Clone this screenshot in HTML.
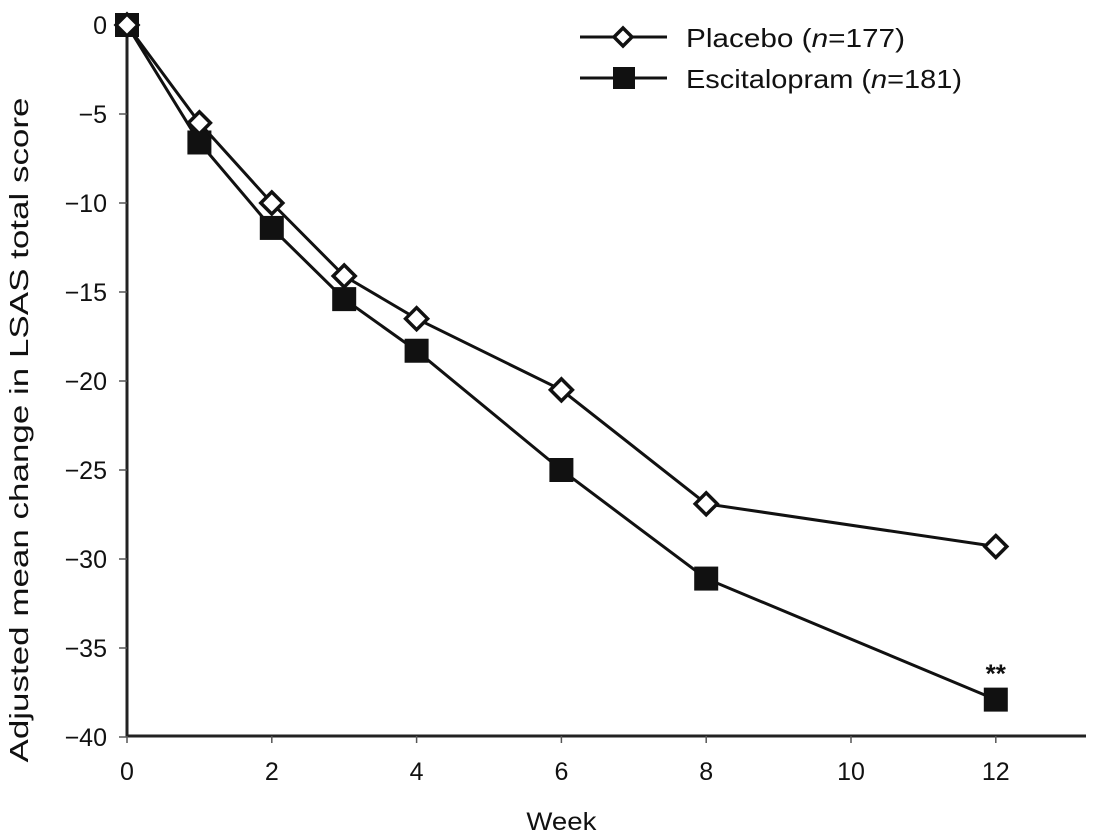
<!DOCTYPE html>
<html><head><meta charset="utf-8"><style>
body{margin:0;background:#fff}
svg{display:block;font-family:"Liberation Sans",sans-serif}
</style></head><body>
<svg id="chart" width="1099" height="836"></svg>
<script>
const weeks=[0,1,2,3,4,6,8,12];
const placebo=[0,-5.5,-10.0,-14.1,-16.5,-20.5,-26.9,-29.3];
const escitalopram=[0,-6.6,-11.4,-15.4,-18.3,-25.0,-31.1,-37.9];
const xTicks=[0,2,4,6,8,10,12];
const yTicks=[0,-5,-10,-15,-20,-25,-30,-35,-40];
const NS='http://www.w3.org/2000/svg';
const svg=document.getElementById('chart');
const x=v=>127+v*72.4;
const y=v=>25-v*17.8;
function mk(t,a,p){const e=document.createElementNS(NS,t);for(const k in a)e.setAttribute(k,a[k]);(p||svg).appendChild(e);return e;}
const axes=mk('g',{});


mk('line',{x1:127,y1:18,x2:127,y2:737,stroke:'#222','stroke-width':3},axes);
mk('line',{x1:126,y1:736,x2:1086,y2:736,stroke:'#222','stroke-width':3},axes);
xTicks.forEach(t=>{
  mk('line',{x1:x(t),y1:736,x2:x(t),y2:743,stroke:'#555','stroke-width':1.5},axes);
  const e=mk('text',{x:x(t),y:780,'font-size':25,'text-anchor':'middle',fill:'#111'},axes);
  e.textContent=t;
  
  
});
yTicks.forEach(t=>{
  mk('line',{x1:119,y1:y(t),x2:127,y2:y(t),stroke:'#555','stroke-width':1.5},axes);
  const e=mk('text',{x:107,y:y(t)+9,'font-size':25,'text-anchor':'end',fill:'#111'},axes);
  e.textContent=t===0?'0':'\u2212'+Math.abs(t);
  
  
});
const xt=mk('text',{x:x(6),y:830,'font-size':25,'text-anchor':'middle',fill:'#111',textLength:70,lengthAdjust:'spacingAndGlyphs'});
xt.textContent='Week';


const yt=mk('text',{x:0,y:0,'font-size':26,'text-anchor':'middle',fill:'#111',transform:'translate(28,430) rotate(-90)',textLength:665,lengthAdjust:'spacingAndGlyphs'});
yt.textContent='Adjusted mean change in LSAS total score';


function series(vals,name,marker){
  const g=mk('g',{});
  
  
  mk('polyline',{points:weeks.map((w,i)=>x(w)+','+y(vals[i])).join(' '),fill:'none',stroke:'#111','stroke-width':3},g);
  weeks.forEach((w,i)=>{
    let m;
    if(marker==='diamond'){
      const cx=x(w),cy=y(vals[i]);
      m=mk('polygon',{points:`${cx},${cy-11} ${cx+11},${cy} ${cx},${cy+11} ${cx-11},${cy}`,fill:'#fff',stroke:'#111','stroke-width':3.5},g);
    }else{
      m=mk('rect',{x:x(w)-12,y:y(vals[i])-12,width:24,height:24,fill:'#111'},g);
    }
    
    
  });
}
series(escitalopram,'escitalopram-series','square');
series(placebo,'placebo-series','diamond');
const st=mk('text',{x:x(12),y:y(escitalopram[7])-17,'font-size':26,'font-weight':'bold','text-anchor':'middle',fill:'#111'});
st.textContent='**';


const lg=mk('g',{});


mk('line',{x1:580,y1:37,x2:667,y2:37,stroke:'#111','stroke-width':3},lg);
mk('polygon',{points:'623,28 632,37 623,46 614,37',fill:'#fff',stroke:'#111','stroke-width':3.5},lg);
mk('line',{x1:580,y1:78,x2:667,y2:78,stroke:'#111','stroke-width':3},lg);
mk('rect',{x:613,y:67,width:22,height:22,fill:'#111'},lg);
const l1=mk('text',{x:686,y:47,'font-size':26,fill:'#111',textLength:219,lengthAdjust:'spacingAndGlyphs'},lg);
l1.innerHTML='Placebo (<tspan font-style="italic">n</tspan>=177)';


const l2=mk('text',{x:686,y:88,'font-size':26,fill:'#111',textLength:276,lengthAdjust:'spacingAndGlyphs'},lg);
l2.innerHTML='Escitalopram (<tspan font-style="italic">n</tspan>=181)';


</script>
</body></html>
